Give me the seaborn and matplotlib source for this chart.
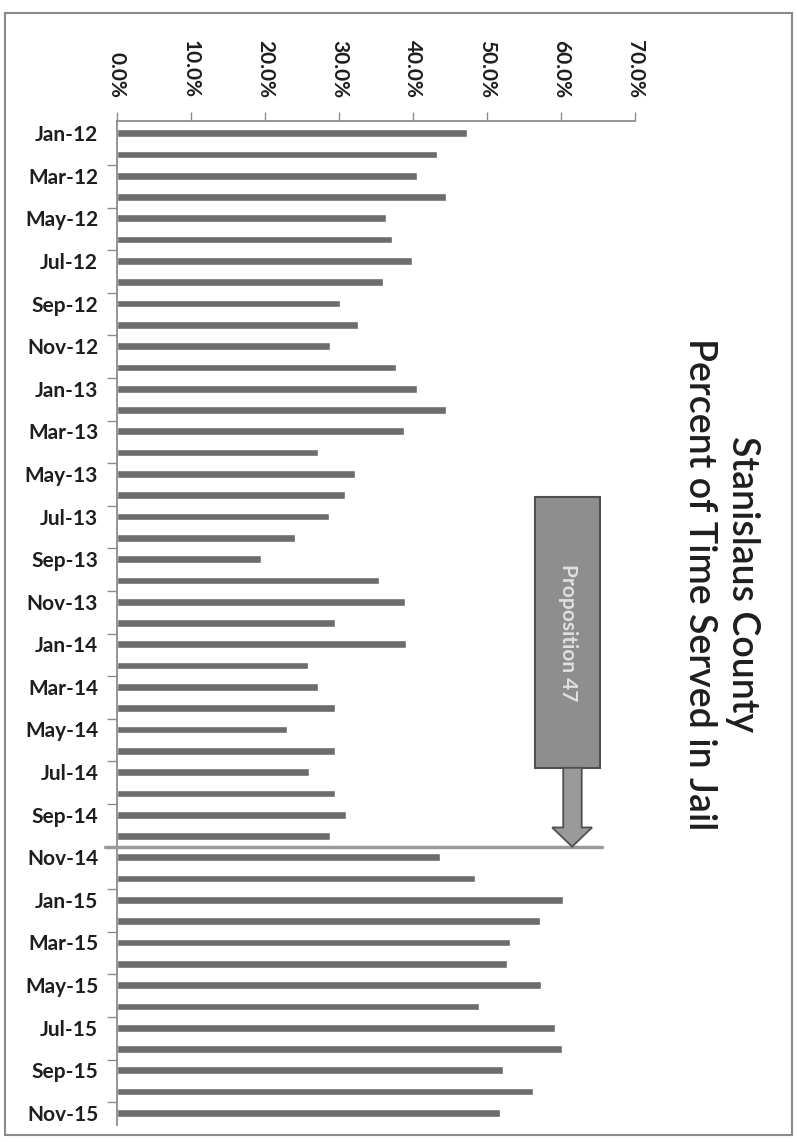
import matplotlib
matplotlib.use("Agg")
import matplotlib.pyplot as plt
import matplotlib.patches as mpatches
from matplotlib.ticker import PercentFormatter
import seaborn as sns
import pandas as pd
import numpy as np

# monthly categories, Jan-12 .. Nov-15
months = ["Jan-12", "Feb-12", "Mar-12", "Apr-12", "May-12", "Jun-12",
          "Jul-12", "Aug-12", "Sep-12", "Oct-12", "Nov-12", "Dec-12",
          "Jan-13", "Feb-13", "Mar-13", "Apr-13", "May-13", "Jun-13",
          "Jul-13", "Aug-13", "Sep-13", "Oct-13", "Nov-13", "Dec-13",
          "Jan-14", "Feb-14", "Mar-14", "Apr-14", "May-14", "Jun-14",
          "Jul-14", "Aug-14", "Sep-14", "Oct-14", "Nov-14", "Dec-14",
          "Jan-15", "Feb-15", "Mar-15", "Apr-15", "May-15", "Jun-15",
          "Jul-15", "Aug-15", "Sep-15", "Oct-15", "Nov-15"]

# percent of time served in jail
pct_served = [47.3, 43.3, 40.5, 44.4, 36.3, 37.1, 39.9, 36.0, 30.1, 32.6, 28.8, 37.7,
              40.5, 44.4, 38.8, 27.2, 32.1, 30.8, 28.7, 24.1, 19.4, 35.4, 38.9, 29.4,
              39.0, 25.8, 27.2, 29.5, 23.0, 29.4, 26.0, 29.5, 30.9, 28.8, 43.6, 48.4,
              60.3, 57.1, 53.1, 52.7, 57.3, 48.9, 59.2, 60.2, 52.1, 56.2, 51.8]

x_ticks = [0, 10, 20, 30, 40, 50, 60, 70]
label_months = months[::2]

title_text = "Stanislaus County\nPercent of Time Served in Jail"
callout_text = "Proposition 47"

df = pd.DataFrame({"month": months, "pct": pct_served})

sns.set_style("white")
plt.rcParams["font.family"] = ["Lato", "DejaVu Sans"]

fig = plt.figure(figsize=(7.97, 11.42), dpi=100)
ax = fig.add_axes([117 / 797, 1 - 1125 / 1142, (635 - 117) / 797, (1125 - 121) / 1142])

sns.barplot(data=df, x="pct", y="month", orient="h", color="#6c6c6c",
            saturation=1, width=0.36, ax=ax)

ax.set_xlim(0, 70)
ax.set_ylim(len(months) - 0.43, -0.57)
ax.set_xlabel("")
ax.set_ylabel("")

# value axis on top, labels turned
ax.set_xticks(x_ticks)
ax.xaxis.set_major_formatter(PercentFormatter(xmax=100, decimals=1))
ax.xaxis.tick_top()
ax.tick_params(axis="x", top=True, bottom=False, labeltop=True, labelbottom=False,
               rotation=-90, direction="out", length=6.5, width=1, color="#8c8c8c",
               pad=10, labelsize=15, labelcolor="#1e1e1e")
for t in ax.get_xticklabels():
    t.set_fontweight("bold")

# category axis: label every other month, tick marks between pairs
ax.set_yticks(range(0, len(months), 2))
ax.set_yticklabels(label_months, fontweight="bold")
ax.set_yticks(np.arange(1.5, len(months) - 1, 2), minor=True)
ax.tick_params(axis="y", which="major", length=0, pad=13.5, labelsize=15, labelcolor="#1e1e1e")
ax.tick_params(axis="y", which="minor", left=True, length=7, width=1, color="#8c8c8c", direction="out")

for side in ["right", "bottom"]:
    ax.spines[side].set_visible(False)
for side in ["left", "top"]:
    ax.spines[side].set_color("#8c8c8c")
    ax.spines[side].set_linewidth(1.3)

# Prop 47 marker line between Oct-14 and Nov-14
ax.plot([-1.6, 65.5], [33.5, 33.5], color="#9a9a9a", lw=2.5, clip_on=False, zorder=4)

# callout box with arrow
box = mpatches.Rectangle((56.5, 17.1), 8.8, 12.7, facecolor="#8e8e8e",
                         edgecolor="#505050", lw=1.5, zorder=5)
ax.add_patch(box)
arrow = mpatches.Polygon([(60.3, 29.8), (62.8, 29.8), (62.8, 32.6), (64.2, 32.6),
                          (61.5, 33.5), (58.8, 32.6), (60.3, 32.6)],
                         closed=True, facecolor="#9a9a9a", edgecolor="#505050", lw=1.3, zorder=5)
ax.add_patch(arrow)
ax.text(60.9, 23.45, callout_text, rotation=-90, ha="center", va="center",
        fontsize=15, fontweight="bold", color="#e0e0e0", zorder=6)

fig.text(721 / 797, 1 - 584 / 1142, title_text, rotation=-90, ha="center", va="center",
         multialignment="center", fontsize=27, fontweight="semibold", linespacing=1.3,
         color="#1e1e1e")

# outer frame
fig.patches.append(mpatches.Rectangle((5 / 797, 1 - 1135 / 1142), 787 / 797, 1122 / 1142,
                                      transform=fig.transFigure, fill=False,
                                      edgecolor="#8a8a8a", lw=1.5))

fig.savefig("out.png", dpi=100)
